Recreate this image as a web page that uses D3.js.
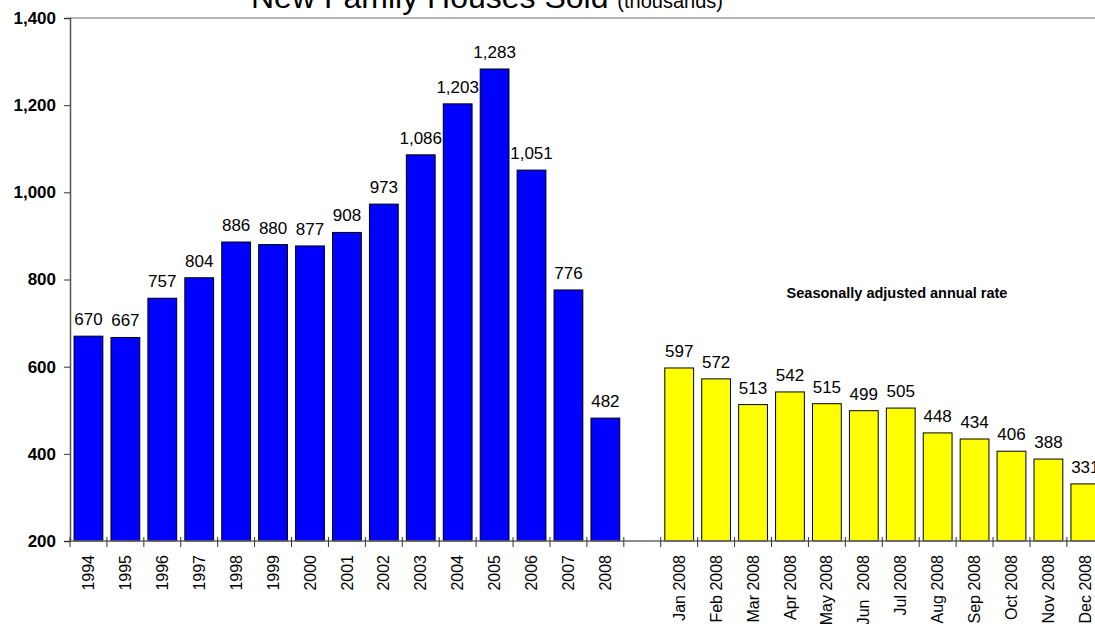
<!DOCTYPE html>
<html>
<head>
<meta charset="utf-8">
<script src="https://cdn.jsdelivr.net/npm/d3@7"></script>
<style>
  html, body { margin: 0; padding: 0; background: #fff; overflow: hidden; }
  svg { display: block; font-family: Arial, "Liberation Sans", sans-serif; }
</style>
</head>
<body>
<svg id="chart" width="1095" height="624"></svg>
<script>
// Annual totals (thousands of units)
const years = ["1994","1995","1996","1997","1998","1999","2000","2001","2002","2003","2004","2005","2006","2007","2008"];
const yearValues = [670, 667, 757, 804, 886, 880, 877, 908, 973, 1086, 1203, 1283, 1051, 776, 482];

// Monthly 2008, seasonally adjusted annual rate (thousands)
const months = ["Jan 2008","Feb 2008","Mar 2008","Apr 2008","May 2008","Jun  2008","Jul 2008","Aug 2008","Sep 2008","Oct 2008","Nov 2008","Dec 2008"];
const monthValues = [597, 572, 513, 542, 515, 499, 505, 448, 434, 406, 388, 331];

const yTicks = [200, 400, 600, 800, 1000, 1200, 1400];
const gapKey = "__gap__";

const rows = [
  ...years.map((k, i) => ({ key: k, value: yearValues[i], kind: "year" })),
  { key: gapKey, value: null, kind: "gap" },
  ...months.map((k, i) => ({ key: k, value: monthValues[i], kind: "month" }))
];

const svg = d3.select("#chart");
const plotLeft = 70, plotTop = 18, plotBottom = 541, plotRight = 1103.8;

const x = d3.scaleBand()
  .domain(rows.map(d => d.key))
  .range([plotLeft, plotRight])
  .paddingInner(0.22)
  .paddingOuter(0.11);

const y = d3.scaleLinear().domain([200, 1400]).range([plotBottom, plotTop]);

const fmt = d3.format(",");

// frame: top border
svg.append("line")
  .attr("x1", plotLeft).attr("x2", 1095)
  .attr("y1", plotTop).attr("y2", plotTop)
  .attr("stroke", "#999").attr("stroke-width", 1.5);

// bars
svg.append("g").selectAll("rect")
  .data(rows.filter(d => d.value !== null))
  .join("rect")
  .attr("x", d => x(d.key))
  .attr("y", d => y(d.value))
  .attr("width", x.bandwidth())
  .attr("height", d => y(200) - y(d.value))
  .attr("fill", d => d.kind === "year" ? "#0000ff" : "#ffff00")
  .attr("stroke", "#000")
  .attr("stroke-width", 1);

// value labels
svg.append("g").selectAll("text")
  .data(rows.filter(d => d.value !== null))
  .join("text")
  .attr("x", d => x(d.key) + x.bandwidth() / 2)
  .attr("y", d => y(d.value) - 11)
  .attr("text-anchor", "middle")
  .attr("font-size", 17)
  .attr("fill", "#000")
  .text(d => fmt(d.value));

// y axis
const yAxis = svg.append("g")
  .attr("transform", `translate(${plotLeft},0)`)
  .call(d3.axisLeft(y).tickValues(yTicks).tickFormat(fmt).tickSize(6).tickPadding(8));
yAxis.select(".domain").attr("stroke", "#555").attr("stroke-width", 1.5);
yAxis.selectAll(".tick line").attr("stroke", "#333");
yAxis.selectAll(".tick text")
  .attr("font-size", 17).attr("font-weight", "bold")
  .attr("font-family", "Arial, 'Liberation Sans', sans-serif").attr("fill", "#000");

// x axis: ticks at band boundaries, crossing the axis line
const boundaries = rows.map(d => x(d.key) - x.step() * x.paddingInner() / 2);
boundaries.push(plotRight);
svg.append("line")
  .attr("x1", plotLeft).attr("x2", 1095)
  .attr("y1", plotBottom).attr("y2", plotBottom)
  .attr("stroke", "#666").attr("stroke-width", 1.5);
svg.append("g").selectAll("line")
  .data(boundaries)
  .join("line")
  .attr("x1", d => d).attr("x2", d => d)
  .attr("y1", plotBottom - 4).attr("y2", plotBottom + 6)
  .attr("stroke", "#333").attr("stroke-width", 1);

// x labels, rotated
svg.append("g").selectAll("text")
  .data(rows.filter(d => d.kind !== "gap"))
  .join("text")
  .attr("transform", d => `translate(${x(d.key) + x.bandwidth() / 2},${plotBottom + 14}) rotate(-90)`)
  .attr("text-anchor", "end")
  .attr("dy", "0.35em")
  .attr("font-size", 16)
  .style("white-space", "pre")
  .attr("fill", "#000")
  .text(d => d.key);

// note for the monthly series
svg.append("text")
  .attr("x", 897).attr("y", 298)
  .attr("text-anchor", "middle")
  .attr("font-size", 14.5)
  .attr("font-weight", "bold")
  .attr("fill", "#000")
  .text("Seasonally adjusted annual rate");

// title
const title = svg.append("text")
  .attr("x", 251).attr("y", 8)
  .attr("fill", "#000");
title.append("tspan").attr("font-size", 32).text("New Family Houses Sold ");
title.append("tspan").attr("font-size", 20).text("(thousands)");
</script>
</body>
</html>
